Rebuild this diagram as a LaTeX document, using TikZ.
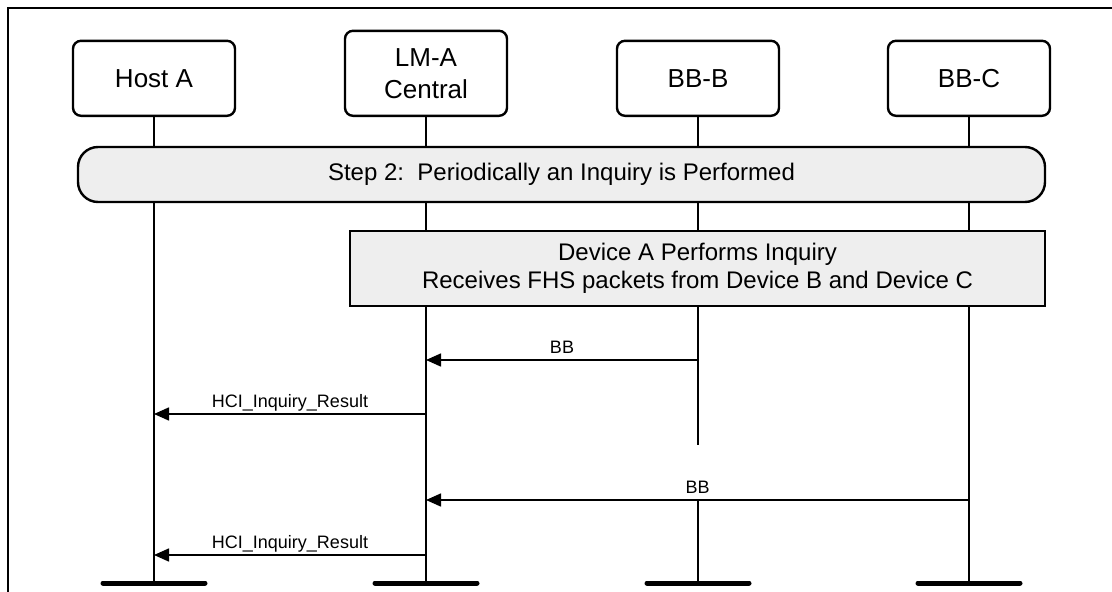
\documentclass[tikz,border=0pt]{standalone}
\usepackage{fontspec}
\setmainfont{Liberation Sans}
\usetikzlibrary{arrows.meta}
\definecolor{boxgray}{HTML}{EEEEEE}
\begin{document}
\begin{tikzpicture}[x=1pt,y=-1pt,
  head/.style={draw, line width=2.4pt, rounded corners=8pt, minimum width=162pt,
    align=center, font=\fontsize{26}{32}\selectfont, inner sep=0pt, anchor=south},
  bar/.style={draw, line width=2.4pt, fill=boxgray, font=\fontsize{24}{28}\selectfont,
    inner sep=0pt, align=center},
  life/.style={line width=2.2pt},
  msg/.style={line width=1.6pt, -{Triangle[length=15pt,width=13pt]}},
  lbl/.style={font=\fontsize{18}{20}\selectfont, anchor=base, inner sep=0pt, yshift=6.5pt},
  endbar/.style={line width=5pt, line cap=round}]
\useasboundingbox (0,0) rectangle (1112,592);
\draw[line width=2pt] (7.5,600) -- (7.5,7.5) -- (1120,7.5);
% heads
\node[head, minimum height=75pt] (hA) at (154,117) {Host A};
\node[head, minimum height=85pt] (lmA) at (426,117) {LM-A\\Central};
\node[head, minimum height=75pt] (bbB) at (698,117) {BB-B};
\node[head, minimum height=75pt] (bbC) at (969,117) {BB-C};
% lifeline ends
\coordinate (hAend) at (154,583);
\coordinate (lmAend) at (426,583);
\coordinate (bbBgap1) at (698,445);
\coordinate (bbBgap2) at (698,500);
\coordinate (bbBend) at (698,583);
\coordinate (bbCend) at (969,583);
% lifelines
\draw[life] (hA.south) -- (hAend);
\draw[life] (lmA.south) -- (lmAend);
\draw[life] (bbB.south) -- (bbBgap1);
\draw[life] (bbBgap2) -- (bbBend);
\draw[life] (bbC.south) -- (bbCend);
% step bar and activity box
\node[bar, rounded corners=20pt, minimum width=967pt, minimum height=55pt] (step) at (561.5,174.5)
  {Step 2:\ \ Periodically an Inquiry is Performed};
\node[bar, minimum width=695pt, minimum height=75pt] (dev) at (697.5,268.5)
  {Device A Performs Inquiry\\Receives FHS packets from Device B and Device C};
% messages
\coordinate (m1s) at (698,360); \coordinate (m1e) at (426,360);
\coordinate (m2s) at (426,414); \coordinate (m2e) at (154,414);
\coordinate (m3s) at (969,500); \coordinate (m3e) at (426,500);
\coordinate (m4s) at (426,555); \coordinate (m4e) at (154,555);
\draw[msg] (m1s) -- node[lbl] {BB} (m1e);
\draw[msg] (m2s) -- node[lbl] {HCI\_Inquiry\_Result} (m2e);
\draw[msg] (m3s) -- node[lbl] {BB} (m3e);
\draw[msg] (m4s) -- node[lbl] {HCI\_Inquiry\_Result} (m4e);
% end bars
\draw[endbar] ([xshift=-51pt]hAend) -- ([xshift=51pt]hAend);
\draw[endbar] ([xshift=-51pt]lmAend) -- ([xshift=51pt]lmAend);
\draw[endbar] ([xshift=-51pt]bbBend) -- ([xshift=51pt]bbBend);
\draw[endbar] ([xshift=-51pt]bbCend) -- ([xshift=51pt]bbCend);
\end{tikzpicture}
\end{document}
